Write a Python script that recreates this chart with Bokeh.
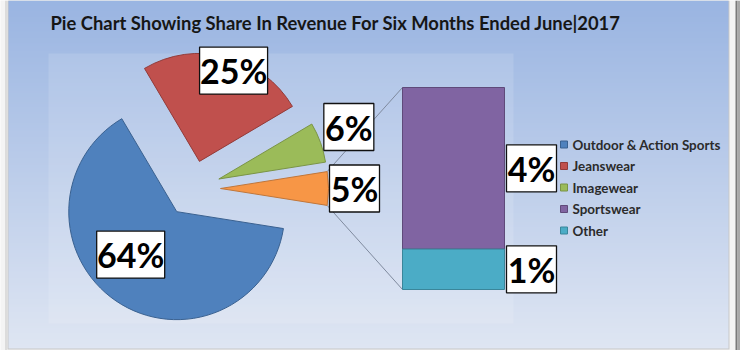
import math
import numpy as np
from bokeh.plotting import figure
from bokeh.models import Range1d
from bokeh.core.properties import value
from bokeh.embed import file_html
from bokeh.resources import INLINE

# ---------------- data ----------------
title = "Pie Chart Showing Share In Revenue For Six Months Ended June|2017"
pie_names = ["Outdoor & Action Sports", "Jeanswear", "Imagewear", "Other"]
pie_values = [64, 25, 6, 5]
bar_names = ["Sportswear", "Other"]
bar_values = [4, 1]
legend_names = ["Outdoor & Action Sports", "Jeanswear", "Imagewear", "Sportswear", "Other"]

# ---------------- styles / layout ----------------
W, H = 740, 350
pie_colors = ["#4F81BD", "#C0504D", "#9BBB59", "#F79646"]
pie_edges = ["#3A6190", "#923B39", "#7A9446", "#C0763A"]
bar_colors = {"Sportswear": "#8064A2", "Other": "#4BACC6"}
bar_edges = {"Sportswear": "#5F4A7A", "Other": "#3A869A"}
legend_colors = ["#4F81BD", "#C0504D", "#9BBB59", "#8064A2", "#4BACC6"]
legend_edges = ["#3A6190", "#923B39", "#7A9446", "#5F4A7A", "#3A869A"]
FONT = value("Lato")

cx, cy = 192, H - 188      # pie centre (data coords, y up)
R = 108                    # pie radius
EXPLODE = 28
bar_left, bar_right = 402, 504
bar_bottom = H - 289
bar_px_per_unit = 202 / sum(bar_values)

label_dist = [63, 97, 140, 134]     # label distance from slice apex
label_dir = [223, 69.4, 21.8, 0]   # label direction (deg)

p = figure(width=W, height=H, x_range=Range1d(0, W), y_range=Range1d(0, H),
           output_backend="svg", toolbar_location=None, min_border=0)
p.axis.visible = False
p.grid.visible = False
p.outline_line_color = None
p.background_fill_color = "#F4F4F4"
p.border_fill_color = "#F4F4F4"

# frame decorations
p.quad(left=[5], right=[6], bottom=[0], top=[H], fill_color="#C4C4C4", line_color=None)
p.quad(left=[735], right=[737], bottom=[0], top=[H], fill_color="#7A7A7A", line_color=None)
p.quad(left=[737], right=[740], bottom=[0], top=[H], fill_color="#A8A8A8", line_color=None)
p.quad(left=[7], right=[729], bottom=[1], top=[H], fill_color="#C8C8C8", line_color=None)

# background gradient
N = 200
img = np.empty((N, 1), dtype=np.uint32)
view = img.view(dtype=np.uint8).reshape((N, 1, 4))
top_c = np.array([154, 181, 226])
bot_c = np.array([223, 230, 243])
for i in range(N):
    t = i / (N - 1)
    c = bot_c * (1 - t) + top_c * t
    view[i, 0, 0:3] = c.astype(np.uint8)
    view[i, 0, 3] = 255
p.image_rgba(image=[img], x=8, y=2, dw=720, dh=H - 2)

# plot area overlay
p.quad(left=[48], right=[513], bottom=[H - 323], top=[H - 53],
       fill_color="white", fill_alpha=0.13, line_color=None)

# ---------------- pie geometry ----------------
total = sum(pie_values)
deg_per = 360.0 / total
other_deg = pie_values[-1] * deg_per
starts, ends = [], []
a = -other_deg / 2
for v in pie_values[:-1]:
    ends.append(a)
    a = a - v * deg_per
    starts.append(a)
starts.append(-other_deg / 2)
ends.append(other_deg / 2)

xs, ys = [], []
for s, e in zip(starts, ends):
    mid = math.radians((s + e) / 2)
    xs.append(cx + EXPLODE * math.cos(mid))
    ys.append(cy + EXPLODE * math.sin(mid))

# connector lines from "Other" slice to bar
ox, oy = xs[-1], ys[-1]
up_tip = (ox + R * math.cos(math.radians(ends[-1])), oy + R * math.sin(math.radians(ends[-1])))
lo_tip = (ox + R * math.cos(math.radians(starts[-1])), oy + R * math.sin(math.radians(starts[-1])))
bar_top = bar_bottom + sum(bar_values) * bar_px_per_unit
p.segment(x0=[up_tip[0], lo_tip[0]], y0=[up_tip[1], lo_tip[1]],
          x1=[bar_left, bar_left], y1=[bar_top, bar_bottom],
          line_color="#7F8A9E", line_width=1)

p.wedge(x=xs, y=ys, radius=R,
        start_angle=[math.radians(s) for s in starts],
        end_angle=[math.radians(e) for e in ends],
        fill_color=pie_colors, line_color=pie_edges, line_width=1)

# ---------------- bar ----------------
bottoms, tops = [], []
acc = bar_bottom
for v in reversed(bar_values):
    bottoms.append(acc)
    acc += v * bar_px_per_unit
    tops.append(acc)
bottoms = list(reversed(bottoms))
tops = list(reversed(tops))
p.quad(left=[bar_left] * len(bar_values), right=[bar_right] * len(bar_values),
       bottom=bottoms, top=tops,
       fill_color=[bar_colors[n] for n in bar_names],
       line_color=[bar_edges[n] for n in bar_names], line_width=1)

# ---------------- labels ----------------
lab_x, lab_y, lab_t = [], [], []
for i, v in enumerate(pie_values):
    ang = math.radians(label_dir[i])
    lab_x.append(xs[i] + label_dist[i] * math.cos(ang))
    lab_y.append(ys[i] + label_dist[i] * math.sin(ang))
    lab_t.append(f"{v}%")
for i, v in enumerate(bar_values):
    lab_x.append(bar_right + 27)
    lab_y.append((bottoms[i] + tops[i]) / 2)
    lab_t.append(f"{v}%")
lab_w = [68 if len(t) == 3 else 50 for t in lab_t]
p.rect(x=lab_x, y=lab_y, width=lab_w, height=[47] * len(lab_t),
       fill_color="white", line_color="#111111", line_width=1.3)
p.text(x=lab_x, y=lab_y, text=lab_t, text_font=FONT, text_font_style="bold",
       text_font_size="34px", text_align="center", text_baseline="middle",
       text_color="black")

# ---------------- legend ----------------
leg_y = [H - (144 + 21.5 * i) for i in range(len(legend_names))]
p.rect(x=[563.5] * len(legend_names), y=leg_y, width=7, height=7,
       fill_color=legend_colors, line_color=legend_edges, line_width=1)
p.text(x=[572] * len(legend_names), y=leg_y, text=legend_names, text_font=FONT,
       text_font_style="bold", text_font_size="13.4px", text_align="left",
       text_baseline="middle", text_color="#2B2B2B")

# ---------------- title ----------------
p.text(x=[50], y=[H - 22.5], text=[title], text_font=FONT, text_font_style="bold",
       text_font_size="18.4px", text_align="left", text_baseline="alphabetic",
       text_color="#161616")

open("out.html", "w").write(file_html(p, INLINE))
